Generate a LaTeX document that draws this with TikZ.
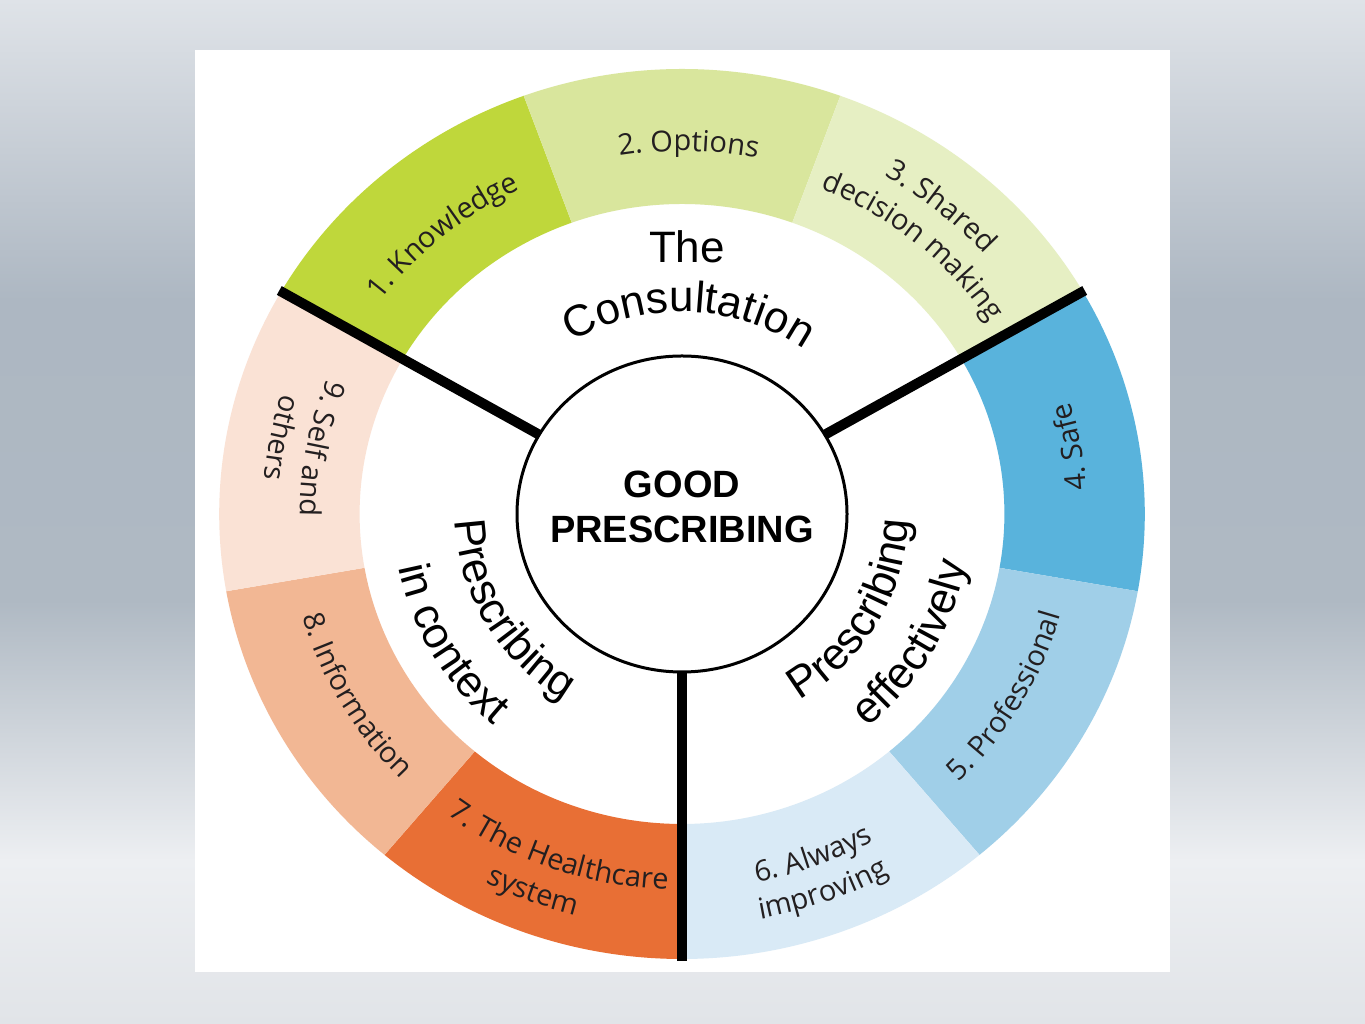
\documentclass[tikz,border=0pt]{standalone}
\usepackage{fontspec}
\setsansfont{Liberation Sans}
\newfontfamily\lblfont{Open Sans}
\usetikzlibrary{decorations.text}
\newcommand\bigsanstxt{\sffamily\fontsize{44}{50}\selectfont}
\newcommand\lblsizetxt{\lblfont\fontsize{29}{35}\selectfont}
\definecolor{cA}{HTML}{BFD73B}
\definecolor{cB}{HTML}{D9E69D}
\definecolor{cC}{HTML}{E6EFC3}
\definecolor{cD}{HTML}{59B3DC}
\definecolor{cE}{HTML}{A0CFE8}
\definecolor{cF}{HTML}{D9EAF6}
\definecolor{cG}{HTML}{E86F35}
\definecolor{cH}{HTML}{F2B794}
\definecolor{cI}{HTML}{FAE2D5}
\definecolor{lbl}{HTML}{231F20}
\definecolor{bg1}{HTML}{DFE3E8}
\definecolor{bg2}{HTML}{ADB7C2}
\definecolor{bg3}{HTML}{A3ADB9}
\definecolor{bg4}{HTML}{AFB9C3}
\definecolor{bg5}{HTML}{EDEFF2}
\definecolor{bg6}{HTML}{E1E4E8}
\newcommand\ringseg[3]{\fill[#1] (#2:462.8 and 445) arc[start angle=#2, end angle=#3, x radius=462.8, y radius=445] -- (#3:322.4 and 310) arc[start angle=#3, end angle=#2, x radius=322.4, y radius=310] -- cycle;}
% #1 style, #2 text, #3 start angle, #4 end angle, #5 radius
\newcommand\arclabel[5]{%
  \pgfmathsetmacro\arcxr{1.04*#5}%
  \path[#1={#2}] ({1.04*#5*cos(#3)},{#5*sin(#3)}) arc[start angle=#3, end angle=#4, x radius=\arcxr, y radius=#5];}
\begin{document}
\begin{tikzpicture}[x=1pt,y=1pt,
  spoke/.style={line width=10pt, black},
  bigtext/.style={font=\bigsanstxt, inner sep=0pt},
  arctext/.style={decorate, decoration={text along path, text align=center, text={|\bigsanstxt|#1}}},
  lbltext/.style={decorate, decoration={text along path, text align=center, text color=lbl, text={|\lblsizetxt|#1}}}
  ]
\useasboundingbox (0,0) rectangle (1365,1024);
% background
\shade[top color=bg1, bottom color=bg2] (0,723) rectangle (1365,1024);
\shade[top color=bg2, middle color=bg3, bottom color=bg4] (0,423) rectangle (1365,724);
\shade[top color=bg4, bottom color=bg5] (0,163) rectangle (1365,424);
\shade[top color=bg5, bottom color=bg6] (0,0) rectangle (1365,164);
\fill[white] (195,52) rectangle (1170,974);
\begin{scope}[shift={(682,510)}]
  % ring segments
  \ringseg{cA}{110}{150}
  \ringseg{cB}{70}{110}
  \ringseg{cC}{30}{70}
  \ringseg{cD}{-10}{30}
  \ringseg{cE}{-50}{-10}
  \ringseg{cF}{-90}{-50}
  \ringseg{cG}{-130}{-90}
  \ringseg{cH}{-170}{-130}
  \ringseg{cI}{150}{190}
  % spokes
  \coordinate (k1) at (30:164.3 and 158);
  \coordinate (o1) at (30:465 and 447);
  \coordinate (k2) at (150:164.3 and 158);
  \coordinate (o2) at (150:465 and 447);
  \coordinate (k3) at (270:164.3 and 158);
  \coordinate (o3) at (270:465 and 447);
  \draw[spoke] (k1) -- (o1);
  \draw[spoke] (k2) -- (o2);
  \draw[spoke] (k3) -- (o3);
  % centre
  \draw[line width=3pt, fill=white] (0,0) ellipse[x radius=165, y radius=158];
  % segment labels (curved)
  \arclabel{lbltext}{1. Knowledge}{170}{90}{360}
  \arclabel{lbltext}{2. Options}{129}{49}{363}
  \arclabel{lbltext}{3. Shared}{90.5}{10.5}{390}
  \arclabel{lbltext}{decision making}{90}{10}{352}
  \arclabel{lbltext}{4. Safe}{-30}{50}{390}
  \arclabel{lbltext}{5. Professional}{290}{370}{378}
  \arclabel{lbltext}{6. Always}{250.5}{330.5}{375}
  \arclabel{lbltext}{improving}{250}{330}{412}
  \arclabel{lbltext}{7. The Healthcare}{210.3}{290.3}{376}
  \arclabel{lbltext}{system}{209}{289}{414}
  \arclabel{lbltext}{8. Information}{169.7}{249.7}{379}
  \arclabel{lbltext}{9. Self and}{129.5}{209.5}{367}
  \arclabel{lbltext}{others}{129}{209}{403}
  % section titles
  \arclabel{arctext}{Consultation}{150}{26}{202}
  \arclabel{arctext}{Prescribing}{290}{370}{218}
  \arclabel{arctext}{effectively}{295}{365}{278}
  \arclabel{arctext}{Prescribing}{170}{250}{218}
  \arclabel{arctext}{in context}{175}{245}{278}
\end{scope}
\node[bigtext, anchor=base] (the) at (687,761) {The};
\node[font=\sffamily\bfseries\fontsize{38}{45}\selectfont, align=center, inner sep=0pt] (core) at (682,517) {GOOD\\PRESCRIBING};
\end{tikzpicture}
\end{document}
